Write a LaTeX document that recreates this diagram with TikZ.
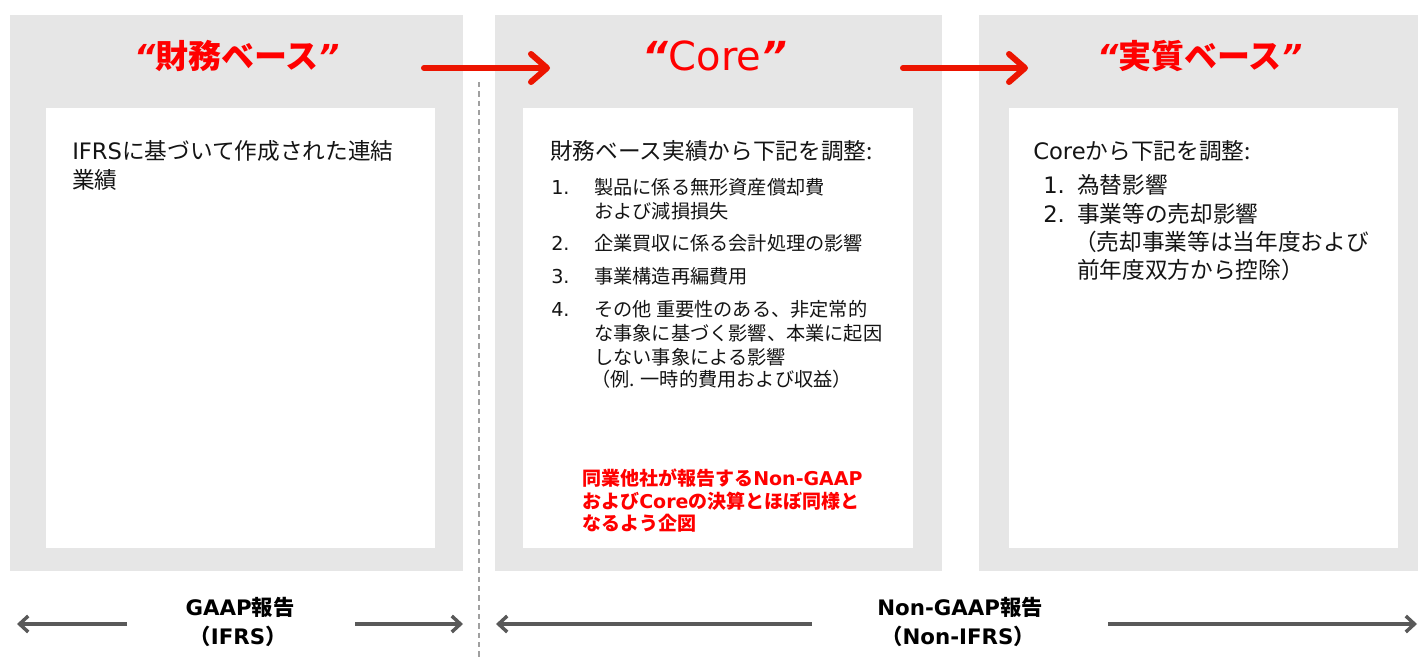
\documentclass[tikz,border=0pt]{standalone}
\usepackage{fontspec}
\setmainfont{Noto Sans CJK JP}
\newfontfamily\qfont{DejaVu Sans}
\newfontfamily\lat{DejaVu Sans}
\usetikzlibrary{arrows.meta}
\definecolor{panelgray}{RGB}{230,230,230}
\definecolor{titlered}{RGB}{255,0,0}
\definecolor{arrowred}{RGB}{236,20,0}
\definecolor{darkgray}{RGB}{89,89,89}
\definecolor{dashgray}{RGB}{160,160,160}
\definecolor{textgray}{RGB}{20,20,20}
\newcommand\myoq{{\qfont\bfseries\itshape “}}
\newcommand\mycq{{\qfont\bfseries\itshape ”}}
\begin{document}
\begin{tikzpicture}[x=0.75pt,y=-0.75pt,
  panel/.style={fill=panelgray,draw=none},
  card/.style={fill=white,draw=none},
  title/.style={anchor=base,inner sep=0,text=titlered,font=\fontsize{24.75}{30}\selectfont\bfseries},
  coretitle/.style={anchor=base,inner sep=0,text=titlered,font=\fontsize{30}{36}\selectfont},
  body/.style={anchor=base west,inner sep=0,text=textgray,font=\fontsize{17}{20}\selectfont},
  item/.style={anchor=base west,inner sep=0,text=textgray,font=\fontsize{14.4}{17}\selectfont},
  note/.style={anchor=base west,inner sep=0,text=titlered,font=\fontsize{14.25}{17}\selectfont\bfseries},
  bottomlabel/.style={anchor=base,inner sep=0,text=black,font=\fontsize{16}{19}\selectfont\bfseries},
  flow/.style={draw=arrowred,line width=4.5pt,line cap=round,-{Straight Barb[length=12pt,width=21pt,round]}},
  scopearrow/.style={draw=darkgray,line width=2.6pt,-{Straight Barb[length=6.5pt,width=12pt]}},
  divider/.style={draw=dashgray,line width=0.8pt,dash pattern=on 4pt off 3pt}]
\useasboundingbox (0,0) rectangle (1418,660);
% panels
\fill[panel] (10,15) rectangle (463,571);
\fill[panel] (495,15) rectangle (942,571);
\fill[panel] (979,15) rectangle (1418,571);
\fill[card] (46,108) rectangle (435,548);
\fill[card] (523,108) rectangle (913,548);
\fill[card] (1009,108) rectangle (1398,548);
% divider
\coordinate (dtop) at (479,82);
\coordinate (dbot) at (479,660);
\draw[divider] (dtop) -- (dbot);
% titles
\node[title] (t1) at (237,68.5) {\myoq 財務ベース\mycq};
\node[coretitle] (t2) at (715,71) {\myoq{\lat Core}\mycq};
\node[title] (t3) at (1200,68.5) {\myoq 実質ベース\mycq};
% flow arrows
\coordinate (a1s) at (424,68);
\coordinate (a1e) at (550,68);
\coordinate (a2s) at (903,68);
\coordinate (a2e) at (1028,68);
\draw[flow] (a1s) -- (a1e);
\draw[flow] (a2s) -- (a2e);
% left card
\node[body] (l1) at (72,160) {{\lat IFRS}に基づいて作成された連結};
\node[body] (l2) at (72,188) {業績};
% middle card
\node[body] (m0) at (550,159.5) {財務ベース実績から下記を調整:};
\node[item] (n1) at (551,194) {\lat 1.};
\node[item] (i1a) at (594,194) {製品に係る無形資産償却費};
\node[item] (i1b) at (594,218) {および減損損失};
\node[item] (n2) at (551,250) {\lat 2.};
\node[item] (i2) at (594,250) {企業買収に係る会計処理の影響};
\node[item] (n3) at (551,283) {\lat 3.};
\node[item] (i3) at (594,283) {事業構造再編費用};
\node[item] (n4) at (551,316) {\lat 4.};
\node[item] (i4a) at (594,316) {その他 重要性のある、非定常的};
\node[item] (i4b) at (594,340) {な事象に基づく影響、本業に起因};
\node[item] (i4c) at (594,364) {しない事象による影響};
\node[item] (i4d) at (591,386) {（例. 一時的費用および収益）};
\node[note] (r1) at (582,485) {同業他社が報告する{\lat Non-GAAP}};
\node[note] (r2) at (582,508) {および{\lat Core}の決算とほぼ同様と};
\node[note] (r3) at (582,530) {なるよう企図};
% right card
\node[body] (c0) at (1033,160) {{\lat Core}から下記を調整:};
\node[body] (k1) at (1043,193) {\lat 1.};
\node[body] (j1) at (1077,193) {為替影響};
\node[body] (k2) at (1043,222) {\lat 2.};
\node[body] (j2) at (1077,222) {事業等の売却影響};
\node[body] (j3) at (1074,250) {（売却事業等は当年度および};
\node[body] (j4) at (1077,278) {前年度双方から控除）};
% bottom labels and scope arrows
\node[bottomlabel] (g1) at (240,615) {{\lat GAAP}報告};
\node[bottomlabel] (g2) at (238,644) {（{\lat IFRS}）};
\node[bottomlabel] (h1) at (960,615) {{\lat Non-GAAP}報告};
\node[bottomlabel] (h2) at (958,644) {（{\lat Non-IFRS}）};
\coordinate (gl1) at (127,624);
\coordinate (gl2) at (17,624);
\coordinate (gr1) at (355,624);
\coordinate (gr2) at (463,624);
\coordinate (hl1) at (812,624);
\coordinate (hl2) at (496,624);
\coordinate (hr1) at (1108,624);
\coordinate (hr2) at (1417,624);
\draw[scopearrow] (gl1) -- (gl2);
\draw[scopearrow] (gr1) -- (gr2);
\draw[scopearrow] (hl1) -- (hl2);
\draw[scopearrow] (hr1) -- (hr2);
\end{tikzpicture}
\end{document}
